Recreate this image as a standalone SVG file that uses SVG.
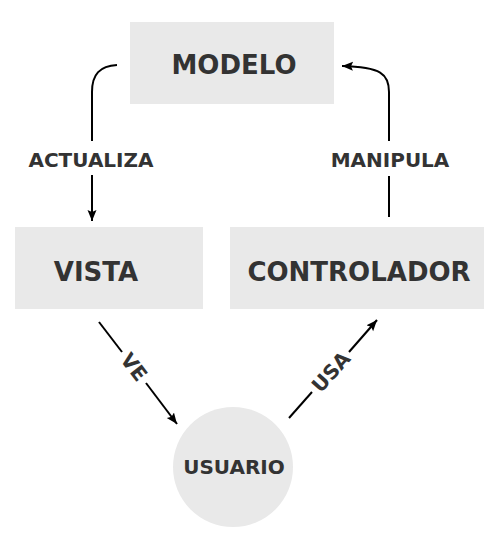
<svg xmlns="http://www.w3.org/2000/svg" width="500" height="550" viewBox="0 0 500 550">
  <style>
    .box { fill: #e9e9e9; }
    .big { font-family: "DejaVu Sans", Verdana, sans-serif; font-weight: bold; font-size: 26px; fill: #333333; }
    .lbl { font-family: "DejaVu Sans", Verdana, sans-serif; font-weight: bold; font-size: 20px; fill: #333333; text-anchor: middle; }
    .conn { fill: none; stroke: #000000; stroke-width: 2; }
  </style>
  <defs>
    <marker id="arrow" markerUnits="userSpaceOnUse" markerWidth="12" markerHeight="10" refX="11" refY="4.5" orient="auto">
      <path d="M0,0 L11,4.5 L0,9 L2,4.5 Z" fill="#000000"/>
    </marker>
  </defs>
  <rect width="500" height="550" fill="#ffffff"/>

  <g id="modelo">
    <rect class="box" x="130" y="22" width="204" height="82"/>
    <text class="big" x="234" y="74" text-anchor="middle">MODELO</text>
  </g>
  <g id="vista">
    <rect class="box" x="15" y="227" width="188" height="82"/>
    <text class="big" x="96" y="281" text-anchor="middle">VISTA</text>
  </g>
  <g id="controlador">
    <rect class="box" x="230" y="227" width="254" height="82"/>
    <text class="big" x="359" y="281" text-anchor="middle">CONTROLADOR</text>
  </g>
  <g id="usuario">
    <circle class="box" cx="233" cy="467" r="60"/>
    <text class="lbl" x="234" y="474">USUARIO</text>
  </g>

  <g id="connectors">
    <path class="conn" d="M117,65 C100,66 92,74 92,92 L92,141"/>
    <path class="conn" d="M92,175 L92,221" marker-end="url(#arrow)"/>
    <text class="lbl" x="91" y="167">ACTUALIZA</text>

    <path class="conn" d="M389,217 L389,176"/>
    <path class="conn" d="M389,141 L389,92 C389,74 381,67 342,66" marker-end="url(#arrow)"/>
    <text class="lbl" x="390" y="167">MANIPULA</text>

    <path class="conn" d="M99,322 L122,352"/>
    <path class="conn" d="M146,383 L177,424" marker-end="url(#arrow)"/>
    <text class="lbl" transform="translate(134,367) rotate(52.5)" x="0" y="7">VE</text>

    <path class="conn" d="M289,418 L312,392"/>
    <path class="conn" d="M349,352 L377,320" marker-end="url(#arrow)"/>
    <text class="lbl" transform="translate(331,372) rotate(-48.2)" x="0" y="7">USA</text>
  </g>
</svg>
